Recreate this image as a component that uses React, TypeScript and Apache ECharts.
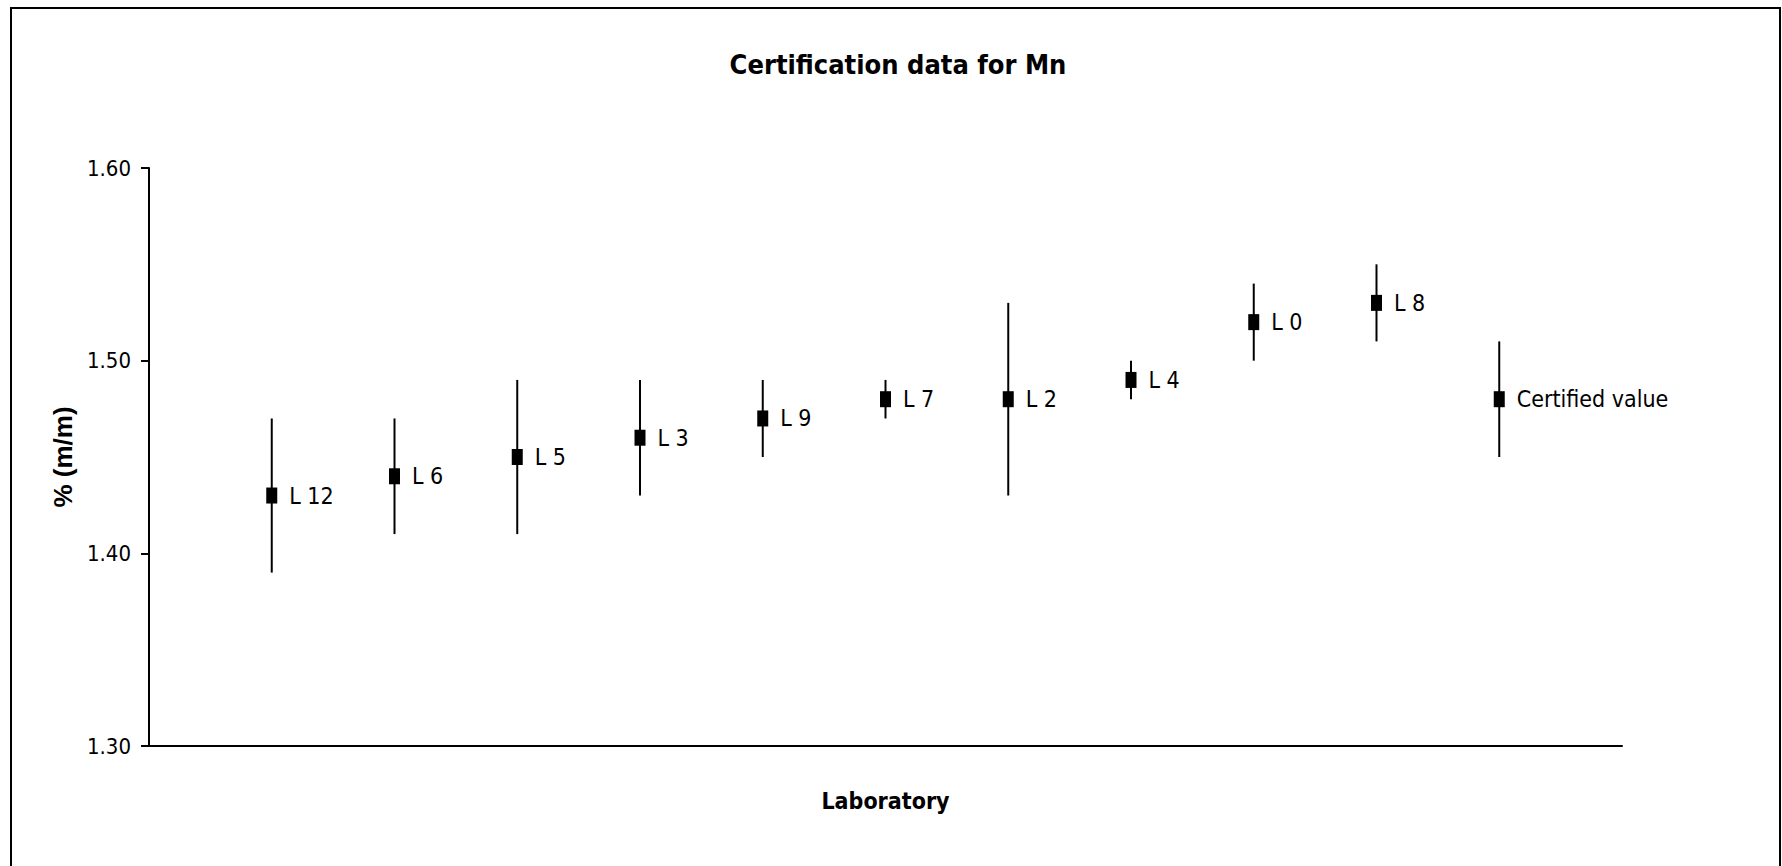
import React, { useEffect, useRef } from "react";
import * as echarts from "echarts";

const labs = ["L 12", "L 6", "L 5", "L 3", "L 9", "L 7", "L 2", "L 4", "L 0", "L 8", "Certified value"];
const means = [1.43, 1.44, 1.45, 1.46, 1.47, 1.48, 1.48, 1.49, 1.52, 1.53, 1.48];
const lows = [1.39, 1.41, 1.41, 1.43, 1.45, 1.47, 1.43, 1.48, 1.5, 1.51, 1.45];
const highs = [1.47, 1.47, 1.49, 1.49, 1.49, 1.49, 1.53, 1.5, 1.54, 1.55, 1.51];
const yTicks = [1.3, 1.4, 1.5, 1.6];

const NARROW = "'Liberation Sans Narrow', 'Arial Narrow', 'DejaVu Sans Condensed', sans-serif";

export default function App() {
  const ref = useRef<HTMLDivElement>(null);
  useEffect(() => {
    if (!ref.current) return;
    const chart = echarts.init(ref.current, null, { renderer: "svg" });
    const pts = labs.map((name, i) => ({ name, value: [i + 1, means[i]] }));
    const bars = labs.map((_, i) => [i + 1, lows[i], highs[i]]);
    chart.setOption({
      animation: false,
      backgroundColor: "#fff",
      title: {
        text: "Certification data for Mn",
        left: 898,
        textAlign: "center",
        top: 51,
        padding: 0,
        textStyle: { fontFamily: NARROW, fontWeight: "bold", fontSize: 27, color: "#000" },
      },
      graphic: [
        {
          type: "rect",
          shape: { x: 11, y: 8, width: 1769, height: 900 },
          style: { fill: "none", stroke: "#000", lineWidth: 2 },
          silent: true,
        },
      ],
      grid: { left: 149, right: 160, top: 168, bottom: 120, containLabel: false },
      xAxis: {
        type: "value",
        min: 0,
        max: labs.length + 1,
        name: "Laboratory",
        nameLocation: "middle",
        nameGap: 43,
        nameTextStyle: { fontFamily: NARROW, fontWeight: "bold", fontSize: 23, color: "#000" },
        axisLine: { show: true, onZero: false, lineStyle: { color: "#000", width: 2 } },
        axisTick: { show: false },
        axisLabel: { show: false },
        splitLine: { show: false },
      },
      yAxis: {
        type: "value",
        min: yTicks[0],
        max: yTicks[yTicks.length - 1],
        interval: 0.1,
        name: "% (m/m)",
        nameLocation: "middle",
        nameRotate: 90,
        nameGap: 61,
        nameTextStyle: { fontFamily: "'Liberation Sans', Arial, sans-serif", fontWeight: "bold", fontSize: 26, color: "#000" },
        axisLine: { show: true, lineStyle: { color: "#000", width: 2 } },
        axisTick: { show: true, inside: false, length: 8, lineStyle: { color: "#000", width: 2 } },
        axisLabel: {
          margin: 18,
          fontFamily: NARROW,
          fontSize: 22,
          color: "#000",
          formatter: (v: number) => v.toFixed(2),
        },
        splitLine: { show: false },
      },
      series: [
        {
          type: "custom",
          data: bars,
          renderItem: (params: any, api: any) => {
            const x = api.value(0);
            const lo = api.coord([x, api.value(1)]);
            const hi = api.coord([x, api.value(2)]);
            return {
              type: "line",
              shape: { x1: lo[0], y1: lo[1], x2: hi[0], y2: hi[1] },
              style: { stroke: "#000", lineWidth: 2 },
            };
          },
          z: 1,
          silent: true,
        },
        {
          type: "scatter",
          data: pts,
          symbol: "rect",
          symbolSize: [11, 16],
          itemStyle: { color: "#000", opacity: 1 },
          z: 2,
          label: {
            show: true,
            position: "right",
            distance: 12,
            formatter: (p: any) => p.name,
            fontFamily: NARROW,
            fontSize: 23,
            color: "#000",
          },
        },
      ],
    });
    return () => chart.dispose();
  }, []);
  return (
    <div
      ref={ref}
      style={{ position: "absolute", left: 0, top: 0, width: 1782, height: 866, background: "#fff" }}
    />
  );
}
